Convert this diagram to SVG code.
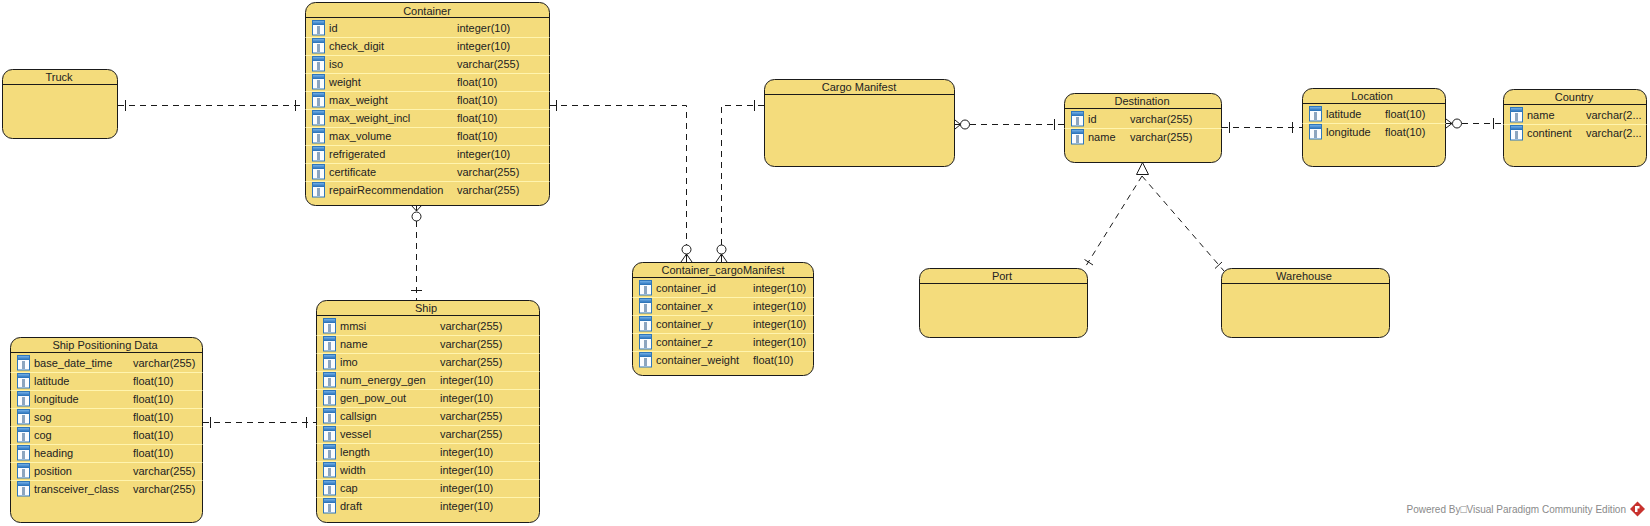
<svg xmlns="http://www.w3.org/2000/svg" width="1650" height="526" viewBox="0 0 1650 526">
<style>
text{font-family:"Liberation Sans",Arial,sans-serif;font-size:11px;fill:#222}
.t{text-anchor:middle}
.b{fill:#F4DC7C;stroke:#1a1a1a;stroke-width:1}
.h{stroke:#1a1a1a;stroke-width:1;fill:none}
.s{stroke:#FFF4AE;stroke-width:1;fill:none}
.c{fill:none;stroke:#1a1a1a;stroke-width:1;stroke-dasharray:6 5}
.m{fill:none;stroke:#1a1a1a;stroke-width:1}
.o{fill:#fff;stroke:#1a1a1a;stroke-width:1}
.f{fill:#8a8a8a;font-size:10.5px}
</style>
<defs>
<linearGradient id="g" x1="0" y1="0" x2="0" y2="1"><stop offset="0" stop-color="#7DB8EC"/><stop offset="1" stop-color="#2A72BC"/></linearGradient>
<g id="ic">
<rect x="0.5" y="0.5" width="12" height="14.500" fill="#FAFCFF" stroke="#2F76BA"/>
<rect x="0.5" y="0.5" width="12" height="4" fill="url(#g)" stroke="#2F76BA"/>
<path d="M5 7h3M5 9h3M5 11h3M5 13h3" stroke="#1F4F80" stroke-width="1" fill="none"/>
</g>
</defs>
<g id="connectors">
<path class="c" d="M118 105.500H305"/>
<path class="m" d="M125.500 100v11M295.500 100v11"/>
<path class="c" d="M550 105.500H686.500V262"/>
<path class="m" d="M556.500 100v11"/>
<circle class="o" cx="686.500" cy="249.500" r="4.500"/>
<path class="m" d="M686.500 254L681 262M686.500 254L692 262M686.500 254V262"/>
<path class="c" d="M764 105.500H721.500V262"/>
<path class="m" d="M754.500 100v11"/>
<circle class="o" cx="721.500" cy="249.500" r="4.500"/>
<path class="m" d="M721.500 254L716 262M721.500 254L727 262M721.500 254V262"/>
<path class="c" d="M970 124.500H1065"/>
<path class="m" d="M1054.500 119v11M960.500 124.500L955 120M960.500 124.500L955 129M960.500 124.500H955"/>
<circle class="o" cx="965" cy="124.500" r="4.500"/>
<path class="c" d="M1222 127.500H1303"/>
<path class="m" d="M1229.500 122v11M1292.500 122v11"/>
<path class="c" d="M1462 123.500H1503"/>
<path class="m" d="M1493.500 118v11M1452 123.500L1446 119M1452 123.500L1446 128M1452 123.500H1446"/>
<circle class="o" cx="1457" cy="123.500" r="4.500"/>
<path class="c" d="M416.500 221V300"/>
<path class="m" d="M411 290.500h11M416.500 211L411 205M416.500 211L422 205M416.500 211V205"/>
<circle class="o" cx="416.500" cy="216.500" r="4.500"/>
<path class="c" d="M203 422.500H317"/>
<path class="m" d="M210.500 417v11M306.500 417v11"/>
<path class="c" d="M1142 176L1084 269"/>
<path class="m" d="M1084.500 259.500L1093 265"/>
<path class="c" d="M1142 176L1224 271"/>
<path class="m" d="M1215 268.500L1222 262"/>
<path d="M1142.500 162.500L1136.500 174.500H1148.500Z" fill="#fff" stroke="#1a1a1a" stroke-width="1"/>
</g>
<g id="node-truck">
<rect class="b" x="2.500" y="69.500" width="115" height="69" rx="10"/>
<path class="h" d="M2.500 84.500H117.500"/>
<text class="t" x="59" y="81">Truck</text>
</g>
<g id="node-container">
<rect class="b" x="305.500" y="2.500" width="244" height="203" rx="10"/>
<path class="h" d="M305.500 17.500H549.500"/>
<path class="s" d="M305.500 37.500H549.500M305.500 55.500H549.500M305.500 73.500H549.500M305.500 91.500H549.500M305.500 109.500H549.500M305.500 127.500H549.500M305.500 145.500H549.500M305.500 163.500H549.500M305.500 181.500H549.500"/>
<text class="t" x="427" y="14.500">Container</text>
<use href="#ic" x="312" y="20"/><text x="329" y="32">id</text><text x="457" y="32">integer(10)</text>
<use href="#ic" x="312" y="38"/><text x="329" y="50">check_digit</text><text x="457" y="50">integer(10)</text>
<use href="#ic" x="312" y="56"/><text x="329" y="68">iso</text><text x="457" y="68">varchar(255)</text>
<use href="#ic" x="312" y="74"/><text x="329" y="86">weight</text><text x="457" y="86">float(10)</text>
<use href="#ic" x="312" y="92"/><text x="329" y="104">max_weight</text><text x="457" y="104">float(10)</text>
<use href="#ic" x="312" y="110"/><text x="329" y="122">max_weight_incl</text><text x="457" y="122">float(10)</text>
<use href="#ic" x="312" y="128"/><text x="329" y="140">max_volume</text><text x="457" y="140">float(10)</text>
<use href="#ic" x="312" y="146"/><text x="329" y="158">refrigerated</text><text x="457" y="158">integer(10)</text>
<use href="#ic" x="312" y="164"/><text x="329" y="176">certificate</text><text x="457" y="176">varchar(255)</text>
<use href="#ic" x="312" y="182"/><text x="329" y="194">repairRecommendation</text><text x="457" y="194">varchar(255)</text>
</g>
<g id="node-cargo-manifest">
<rect class="b" x="764.500" y="79.500" width="190" height="87" rx="10"/>
<path class="h" d="M764.500 94.500H954.500"/>
<text class="t" x="859" y="91">Cargo Manifest</text>
</g>
<g id="node-destination">
<rect class="b" x="1064.500" y="93.500" width="157" height="69" rx="10"/>
<path class="h" d="M1064.500 108.500H1221.500"/>
<path class="s" d="M1064.500 128.500H1221.500"/>
<text class="t" x="1142" y="105">Destination</text>
<use href="#ic" x="1071" y="111"/><text x="1088" y="123">id</text><text x="1130" y="123">varchar(255)</text>
<use href="#ic" x="1071" y="129"/><text x="1088" y="141">name</text><text x="1130" y="141">varchar(255)</text>
</g>
<g id="node-location">
<rect class="b" x="1302.500" y="88.500" width="143" height="78" rx="10"/>
<path class="h" d="M1302.500 103.500H1445.500"/>
<path class="s" d="M1302.500 123.500H1445.500"/>
<text class="t" x="1372" y="100">Location</text>
<use href="#ic" x="1309" y="106"/><text x="1326" y="118">latitude</text><text x="1385" y="118">float(10)</text>
<use href="#ic" x="1309" y="124"/><text x="1326" y="136">longitude</text><text x="1385" y="136">float(10)</text>
</g>
<g id="node-country">
<rect class="b" x="1503.500" y="89.500" width="143" height="77" rx="10"/>
<path class="h" d="M1503.500 104.500H1646.500"/>
<path class="s" d="M1503.500 124.500H1646.500"/>
<text class="t" x="1574" y="101">Country</text>
<use href="#ic" x="1510" y="107"/><text x="1527" y="119">name</text><text x="1586" y="119">varchar(2...</text>
<use href="#ic" x="1510" y="125"/><text x="1527" y="137">continent</text><text x="1586" y="137">varchar(2...</text>
</g>
<g id="node-container-cargomanifest">
<rect class="b" x="632.500" y="262.500" width="181" height="113" rx="10"/>
<path class="h" d="M632.500 277.500H813.500"/>
<path class="s" d="M632.500 297.500H813.500M632.500 315.500H813.500M632.500 333.500H813.500M632.500 351.500H813.500"/>
<text class="t" x="723" y="274">Container_cargoManifest</text>
<use href="#ic" x="639" y="280"/><text x="656" y="292">container_id</text><text x="753" y="292">integer(10)</text>
<use href="#ic" x="639" y="298"/><text x="656" y="310">container_x</text><text x="753" y="310">integer(10)</text>
<use href="#ic" x="639" y="316"/><text x="656" y="328">container_y</text><text x="753" y="328">integer(10)</text>
<use href="#ic" x="639" y="334"/><text x="656" y="346">container_z</text><text x="753" y="346">integer(10)</text>
<use href="#ic" x="639" y="352"/><text x="656" y="364">container_weight</text><text x="753" y="364">float(10)</text>
</g>
<g id="node-port">
<rect class="b" x="919.500" y="268.500" width="168" height="69" rx="10"/>
<path class="h" d="M919.500 283.500H1087.500"/>
<text class="t" x="1002" y="280">Port</text>
</g>
<g id="node-warehouse">
<rect class="b" x="1221.500" y="268.500" width="168" height="69" rx="10"/>
<path class="h" d="M1221.500 283.500H1389.500"/>
<text class="t" x="1304" y="280">Warehouse</text>
</g>
<g id="node-ship-positioning-data">
<rect class="b" x="10.500" y="337.500" width="192" height="185" rx="10"/>
<path class="h" d="M10.500 352.500H202.500"/>
<path class="s" d="M10.500 372.500H202.500M10.500 390.500H202.500M10.500 408.500H202.500M10.500 426.500H202.500M10.500 444.500H202.500M10.500 462.500H202.500M10.500 480.500H202.500"/>
<text class="t" x="105" y="349">Ship Positioning Data</text>
<use href="#ic" x="17" y="355"/><text x="34" y="367">base_date_time</text><text x="133" y="367">varchar(255)</text>
<use href="#ic" x="17" y="373"/><text x="34" y="385">latitude</text><text x="133" y="385">float(10)</text>
<use href="#ic" x="17" y="391"/><text x="34" y="403">longitude</text><text x="133" y="403">float(10)</text>
<use href="#ic" x="17" y="409"/><text x="34" y="421">sog</text><text x="133" y="421">float(10)</text>
<use href="#ic" x="17" y="427"/><text x="34" y="439">cog</text><text x="133" y="439">float(10)</text>
<use href="#ic" x="17" y="445"/><text x="34" y="457">heading</text><text x="133" y="457">float(10)</text>
<use href="#ic" x="17" y="463"/><text x="34" y="475">position</text><text x="133" y="475">varchar(255)</text>
<use href="#ic" x="17" y="481"/><text x="34" y="493">transceiver_class</text><text x="133" y="493">varchar(255)</text>
</g>
<g id="node-ship">
<rect class="b" x="316.500" y="300.500" width="223" height="222" rx="10"/>
<path class="h" d="M316.500 315.500H539.500"/>
<path class="s" d="M316.500 335.500H539.500M316.500 353.500H539.500M316.500 371.500H539.500M316.500 389.500H539.500M316.500 407.500H539.500M316.500 425.500H539.500M316.500 443.500H539.500M316.500 461.500H539.500M316.500 479.500H539.500M316.500 497.500H539.500"/>
<text class="t" x="426" y="312">Ship</text>
<use href="#ic" x="323" y="318"/><text x="340" y="330">mmsi</text><text x="440" y="330">varchar(255)</text>
<use href="#ic" x="323" y="336"/><text x="340" y="348">name</text><text x="440" y="348">varchar(255)</text>
<use href="#ic" x="323" y="354"/><text x="340" y="366">imo</text><text x="440" y="366">varchar(255)</text>
<use href="#ic" x="323" y="372"/><text x="340" y="384">num_energy_gen</text><text x="440" y="384">integer(10)</text>
<use href="#ic" x="323" y="390"/><text x="340" y="402">gen_pow_out</text><text x="440" y="402">integer(10)</text>
<use href="#ic" x="323" y="408"/><text x="340" y="420">callsign</text><text x="440" y="420">varchar(255)</text>
<use href="#ic" x="323" y="426"/><text x="340" y="438">vessel</text><text x="440" y="438">varchar(255)</text>
<use href="#ic" x="323" y="444"/><text x="340" y="456">length</text><text x="440" y="456">integer(10)</text>
<use href="#ic" x="323" y="462"/><text x="340" y="474">width</text><text x="440" y="474">integer(10)</text>
<use href="#ic" x="323" y="480"/><text x="340" y="492">cap</text><text x="440" y="492">integer(10)</text>
<use href="#ic" x="323" y="498"/><text x="340" y="510">draft</text><text x="440" y="510">integer(10)</text>
</g>
<text class="f" x="1406.500" y="513" textLength="219.500" lengthAdjust="spacingAndGlyphs">Powered By□Visual Paradigm Community Edition</text>
<path d="M1637.500 501.500L1645 509L1637.500 516.500L1630 509Z" fill="#C8322E"/>
<path d="M1635 506h4.500v2.500h-2v3.500h-2.500Z" fill="#fff"/>
</svg>
